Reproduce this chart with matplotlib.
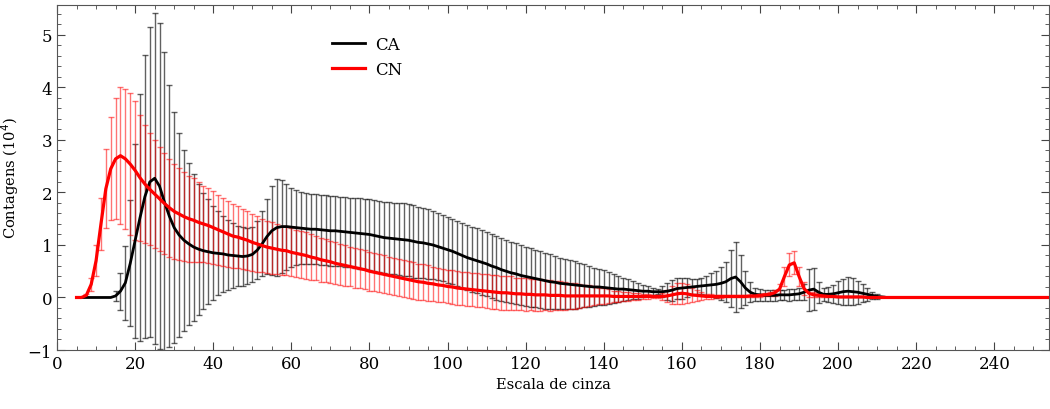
import numpy as np
import matplotlib.pyplot as plt
from matplotlib.ticker import MultipleLocator

# niveis de cinza amostrados de 1.25 em 1.25 (5 ... 253.75)
escala = np.arange(5, 254, 1.25)

# CA: media e desvio padrao (x10^4), blocos de 8 pontos = 10 niveis
ca_media = [
    0, 0, 0, 0, 0, 0, 0, 0,
    0.03, 0.12, 0.28, 0.65, 1.08, 1.52, 1.92, 2.2,
    2.27, 2.12, 1.82, 1.55, 1.33, 1.19, 1.09, 1.02,
    0.96, 0.92, 0.89, 0.87, 0.85, 0.84, 0.83, 0.81,
    0.8, 0.79, 0.78, 0.79, 0.82, 0.9, 1.02, 1.16,
    1.27, 1.33, 1.35, 1.35, 1.34, 1.33, 1.32, 1.31,
    1.3, 1.3, 1.29, 1.28, 1.27, 1.27, 1.26, 1.25,
    1.24, 1.23, 1.22, 1.21, 1.2, 1.18, 1.16, 1.14,
    1.13, 1.12, 1.11, 1.1, 1.09, 1.07, 1.05, 1.04,
    1.02, 1.0, 0.97, 0.94, 0.91, 0.88, 0.84, 0.8,
    0.76, 0.73, 0.7, 0.67, 0.64, 0.6, 0.57, 0.53,
    0.5, 0.47, 0.45, 0.42, 0.4, 0.38, 0.36, 0.34,
    0.32, 0.3, 0.29, 0.27, 0.26, 0.25, 0.24, 0.23,
    0.22, 0.21, 0.2, 0.2, 0.19, 0.18, 0.17, 0.16,
    0.16, 0.15, 0.14, 0.13, 0.12, 0.12, 0.11, 0.11,
    0.11, 0.12, 0.14, 0.17, 0.18, 0.19, 0.2, 0.21,
    0.22, 0.23, 0.24, 0.25, 0.27, 0.3, 0.36, 0.39,
    0.3, 0.18, 0.1, 0.06, 0.05, 0.04, 0.04, 0.04,
    0.05, 0.05, 0.05, 0.06, 0.07, 0.1, 0.14, 0.16,
    0.1, 0.06, 0.06, 0.07, 0.09, 0.11, 0.12, 0.11,
    0.1, 0.08, 0.06, 0.04, 0.02, 0.01, 0, 0,
] + [0.0] * 32

ca_desvio = [
    0, 0, 0, 0, 0, 0, 0, 0,
    0.1, 0.35, 0.7, 1.2, 1.85, 2.35, 2.7, 2.95,
    3.15, 3.1, 2.85, 2.5, 2.2, 1.95, 1.72, 1.55,
    1.4, 1.25, 1.1, 1.0, 0.9, 0.8, 0.72, 0.66,
    0.62, 0.58, 0.56, 0.54, 0.52, 0.55, 0.62, 0.72,
    0.85, 0.92, 0.88, 0.82, 0.75, 0.71, 0.69, 0.68,
    0.67, 0.67, 0.67, 0.67, 0.67, 0.67, 0.66, 0.66,
    0.66, 0.66, 0.67, 0.67, 0.68, 0.68, 0.68, 0.68,
    0.68, 0.68, 0.68, 0.69, 0.69, 0.69, 0.68, 0.67,
    0.66, 0.65, 0.64, 0.63, 0.63, 0.62, 0.62, 0.62,
    0.62, 0.62, 0.62, 0.62, 0.61, 0.61, 0.61, 0.6,
    0.59, 0.58, 0.58, 0.57, 0.56, 0.56, 0.55, 0.54,
    0.53, 0.52, 0.5, 0.49, 0.48, 0.47, 0.45, 0.43,
    0.41, 0.39, 0.37, 0.35, 0.33, 0.3, 0.28, 0.25,
    0.22, 0.2, 0.17, 0.15, 0.12, 0.09, 0.07, 0.05,
    0.1, 0.16, 0.2, 0.2, 0.2, 0.18, 0.15, 0.14,
    0.15, 0.18, 0.22, 0.26, 0.32, 0.38, 0.55, 0.67,
    0.5, 0.32, 0.19, 0.12, 0.11, 0.1, 0.1, 0.1,
    0.1, 0.1, 0.11, 0.11, 0.12, 0.15, 0.4, 0.4,
    0.2, 0.12, 0.14, 0.17, 0.22, 0.25, 0.27, 0.26,
    0.22, 0.17, 0.12, 0.07, 0.04, 0.01, 0, 0,
] + [0.0] * 32

# CN: media e desvio padrao (x10^4)
cn_media = [
    0.0, 0.0, 0.04, 0.25, 0.7, 1.4, 2.07, 2.45,
    2.64, 2.7, 2.64, 2.54, 2.42, 2.28, 2.16, 2.06,
    1.97, 1.88, 1.79, 1.71, 1.64, 1.59, 1.54, 1.5,
    1.47, 1.43, 1.4, 1.37, 1.33, 1.29, 1.25, 1.21,
    1.17, 1.15, 1.12, 1.09, 1.05, 1.02, 0.99, 0.96,
    0.94, 0.92, 0.9, 0.89, 0.86, 0.84, 0.82, 0.8,
    0.77, 0.75, 0.72, 0.7, 0.68, 0.65, 0.63, 0.61,
    0.59, 0.57, 0.55, 0.53, 0.5, 0.48, 0.46, 0.44,
    0.42, 0.4, 0.38, 0.36, 0.34, 0.32, 0.3, 0.29,
    0.27, 0.26, 0.24, 0.23, 0.21, 0.2, 0.18, 0.17,
    0.16, 0.15, 0.14, 0.13, 0.12, 0.11, 0.1, 0.09,
    0.09, 0.08, 0.07, 0.07, 0.06, 0.06, 0.05, 0.05,
    0.05, 0.04, 0.04, 0.04, 0.03, 0.03, 0.03, 0.03,
    0.03, 0.03, 0.03, 0.03, 0.03, 0.03, 0.02, 0.02,
    0.02, 0.02, 0.02, 0.02, 0.02, 0.02, 0.02, 0.02,
    0.02, 0.03, 0.05, 0.07, 0.08, 0.07, 0.05, 0.04,
    0.03, 0.02, 0.02, 0.02, 0.02, 0.02, 0.02, 0.02,
    0.02, 0.02, 0.03, 0.03, 0.04, 0.05, 0.06, 0.09,
    0.16, 0.4, 0.62, 0.66, 0.4, 0.17, 0.08, 0.05,
    0.04, 0.03, 0.02, 0.02, 0.01, 0.01, 0.01, 0.01,
    0.01, 0.01, 0, 0, 0, 0, 0, 0,
] + [0.0] * 32

cn_desvio = [
    0, 0, 0.03, 0.12, 0.3, 0.5, 0.75, 0.98,
    1.15, 1.3, 1.33, 1.35, 1.32, 1.2, 1.12, 1.07,
    1.03, 0.99, 0.96, 0.93, 0.9, 0.87, 0.85, 0.82,
    0.8, 0.76, 0.73, 0.71, 0.69, 0.67, 0.65, 0.63,
    0.61, 0.59, 0.57, 0.56, 0.54, 0.53, 0.51, 0.5,
    0.49, 0.48, 0.47, 0.47, 0.46, 0.45, 0.44, 0.44,
    0.43, 0.42, 0.42, 0.41, 0.4, 0.4, 0.39, 0.39,
    0.38, 0.38, 0.37, 0.37, 0.37, 0.36, 0.36, 0.36,
    0.36, 0.36, 0.35, 0.35, 0.35, 0.35, 0.34, 0.34,
    0.34, 0.33, 0.33, 0.32, 0.32, 0.32, 0.32, 0.32,
    0.32, 0.32, 0.32, 0.32, 0.32, 0.32, 0.32, 0.32,
    0.32, 0.32, 0.31, 0.31, 0.31, 0.3, 0.3, 0.3,
    0.29, 0.29, 0.28, 0.27, 0.26, 0.25, 0.24, 0.23,
    0.21, 0.2, 0.18, 0.16, 0.15, 0.13, 0.11, 0.1,
    0.09, 0.08, 0.07, 0.06, 0.05, 0.04, 0.03, 0.03,
    0.06, 0.12, 0.17, 0.2, 0.2, 0.18, 0.14, 0.1,
    0.07, 0.05, 0.04, 0.03, 0.03, 0.02, 0.02, 0.02,
    0.02, 0.02, 0.02, 0.02, 0.03, 0.03, 0.04, 0.06,
    0.1, 0.18, 0.22, 0.22, 0.18, 0.12, 0.07, 0.05,
    0.04, 0.03, 0.02, 0.02, 0.01, 0.01, 0.01, 0.01,
    0.01, 0.01, 0, 0, 0, 0, 0, 0,
] + [0.0] * 32

plt.rcParams['font.family'] = ['DejaVu Serif']

fig = plt.figure(figsize=(10.5, 4.1), dpi=100)
ax = fig.add_axes([0.0543, 0.1439, 0.9448, 0.8415])

x = np.asarray(escala)
series = [
    ('CA', np.asarray(ca_media), np.asarray(ca_desvio), 'black', 0.62, 2.0),
    ('CN', np.asarray(cn_media), np.asarray(cn_desvio), 'red', 0.55, 2.3),
]

# barras de erro primeiro, curvas medias por cima
for i, (nome, m, s, cor, alfa, lw) in enumerate(series):
    ok = s > 0
    ax.errorbar(x[ok], m[ok], yerr=s[ok], fmt='none', ecolor=cor,
                elinewidth=1.0, capsize=2, capthick=1.0, alpha=alfa,
                zorder=1 + i)
for i, (nome, m, s, cor, alfa, lw) in enumerate(series):
    ax.plot(x, m, color=cor, lw=lw, label=nome, zorder=3 + i)

ax.set_xlim(0, 254)
ax.set_ylim(-1, 5.57)
ax.xaxis.set_major_locator(MultipleLocator(20))
ax.xaxis.set_minor_locator(MultipleLocator(5))
ax.yaxis.set_major_locator(MultipleLocator(1))
ax.yaxis.set_minor_locator(MultipleLocator(0.2))
ax.tick_params(which='both', direction='in', top=True, right=True,
               color='#444444', labelsize=12)
ax.tick_params(which='major', length=6)
ax.tick_params(which='minor', length=3)
for sp in ax.spines.values():
    sp.set_color('#555555')

ax.set_xlabel('Escala de cinza', fontsize=10.5, labelpad=4)
ax.set_ylabel('Contagens (10$^4$)', fontsize=10.5)
ax.yaxis.set_label_coords(-0.036, 0.5)

ax.legend(loc='upper left', bbox_to_anchor=(0.262, 0.955), frameon=False,
          fontsize=12, handlelength=2.0, handletextpad=0.6,
          labelspacing=0.5)

fig.savefig('out.png', dpi=100)
